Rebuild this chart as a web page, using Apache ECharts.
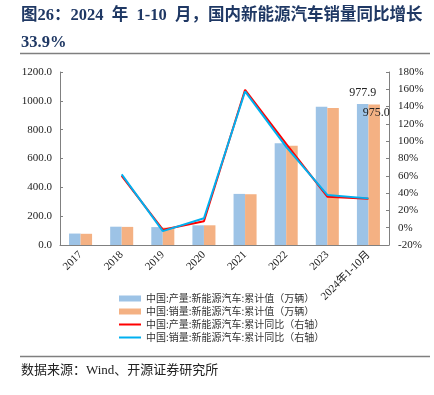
<!DOCTYPE html>
<html>
<head>
<meta charset="utf-8">
<script src="https://cdn.jsdelivr.net/npm/echarts@6/dist/echarts.min.js"></script>
<style>
html,body{margin:0;padding:0;background:#fff;}
#c{width:434px;height:395px;}
</style>
</head>
<body>
<div id="c"></div>
<script>
var categories = ['2017', '2018', '2019', '2020', '2021', '2022', '2023', '2024年1-10月'];
var prodValue = [79.4, 127.0, 124.2, 136.6, 354.5, 705.8, 958.7, 977.9];
var salesValue = [77.7, 125.6, 120.6, 136.7, 352.1, 688.7, 949.5, 975.0];
var prodYoY = [null, 59.9, -2.3, 7.5, 159.5, 96.9, 35.8, 33.6];
var salesYoY = [null, 61.7, -4.0, 10.9, 157.5, 93.4, 37.9, 33.9];
var leftTicks = {min: 0, max: 1200, interval: 200};
var rightTicks = {min: -20, max: 180, interval: 20};
var names = ['中国:产量:新能源汽车:累计值（万辆）', '中国:销量:新能源汽车:累计值（万辆）', '中国:产量:新能源汽车:累计同比（右轴）', '中国:销量:新能源汽车:累计同比（右轴）'];

var serif = '"Liberation Serif", "Times New Roman", "Noto Sans CJK SC", serif';
var cjk = '"Noto Sans CJK SC", sans-serif';
var lineIcon = 'path://M0,0 L22,0 L22,2 L0,2 Z';
var chart = echarts.init(document.getElementById('c'), null, {renderer: 'canvas'});
var last = prodValue.length - 1;
chart.setOption({
  animation: false,
  backgroundColor: '#fff',
  textStyle: {fontFamily: serif},
  graphic: [
    {type: 'text', left: 21, top: 7, style: {text: '图26：2024  年  1-10  月，国内新能源汽车销量同比增长', font: 'bold 16.5px ' + serif, fill: '#1F3864'}},
    {type: 'text', left: 21, top: 34, style: {text: '33.9%', font: 'bold 16.5px ' + serif, fill: '#1F3864'}},
    {type: 'line', shape: {x1: 20, y1: 53.5, x2: 430, y2: 53.5}, style: {stroke: '#7f7f7f', lineWidth: 1.5}},
    {type: 'line', shape: {x1: 20, y1: 356.5, x2: 430, y2: 356.5}, style: {stroke: '#7f7f7f', lineWidth: 1.5}},
    {type: 'text', left: 21, top: 364, style: {text: '数据来源：Wind、开源证券研究所', font: '13px ' + serif, fill: '#222'}}
  ],
  grid: {left: 60, right: 45, top: 72, bottom: 150, containLabel: false},
  legend: {
    orient: 'vertical', left: 114, top: 288, itemWidth: 22, itemHeight: 6, itemGap: 2,
    textStyle: {fontFamily: cjk, fontSize: 10, color: '#333', lineHeight: 11},
    data: [
      {name: names[0], icon: 'rect'},
      {name: names[1], icon: 'rect'},
      {name: names[2], icon: lineIcon},
      {name: names[3], icon: lineIcon}
    ]
  },
  xAxis: {
    type: 'category', data: categories,
    axisLine: {lineStyle: {color: '#808080'}},
    axisTick: {inside: true, length: 3, lineStyle: {color: '#808080'}},
    axisLabel: {rotate: 45, fontSize: 11, color: '#222', fontFamily: serif, margin: 8}
  },
  yAxis: [
    {type: 'value', min: leftTicks.min, max: leftTicks.max, interval: leftTicks.interval,
     axisLine: {show: true, lineStyle: {color: '#808080'}},
     axisTick: {show: true, inside: true, length: 3, lineStyle: {color: '#808080'}},
     splitLine: {show: false},
     axisLabel: {fontSize: 11, color: '#222', fontFamily: serif, margin: 8, formatter: function (v) { return v.toFixed(1); }}},
    {type: 'value', min: rightTicks.min, max: rightTicks.max, interval: rightTicks.interval,
     axisLine: {show: true, lineStyle: {color: '#808080'}},
     axisTick: {show: true, inside: true, length: 3, lineStyle: {color: '#808080'}},
     splitLine: {show: false},
     axisLabel: {fontSize: 11, color: '#222', fontFamily: serif, margin: 9, formatter: function (v) { return v + '%'; }}}
  ],
  series: [
    {name: names[0], type: 'bar', data: prodValue.map(function (v, i) {
        return i === last ? {value: v, label: {show: true, position: 'top', offset: [0, 0]}} : v; }),
     barGap: '0%', barCategoryGap: '44%', itemStyle: {color: '#9DC3E6'},
     label: {show: false, fontSize: 12, color: '#222', fontFamily: serif, formatter: function (p) { return p.value.toFixed(1); }}},
    {name: names[1], type: 'bar', data: salesValue.map(function (v, i) {
        return i === last ? {value: v, label: {show: true, position: 'insideTop', offset: [2, -3]}} : v; }),
     barGap: '0%', barCategoryGap: '44%', itemStyle: {color: '#F4B183'},
     label: {show: false, fontSize: 12, color: '#222', fontFamily: serif, formatter: function (p) { return p.value.toFixed(1); }}},
    {name: names[2], type: 'line', yAxisIndex: 1, data: prodYoY, symbol: 'none', lineStyle: {color: '#FF0000', width: 2}, itemStyle: {color: '#FF0000'}},
    {name: names[3], type: 'line', yAxisIndex: 1, data: salesYoY, symbol: 'none', lineStyle: {color: '#00B0F0', width: 2}, itemStyle: {color: '#00B0F0'}}
  ]
});
</script>
</body>
</html>
